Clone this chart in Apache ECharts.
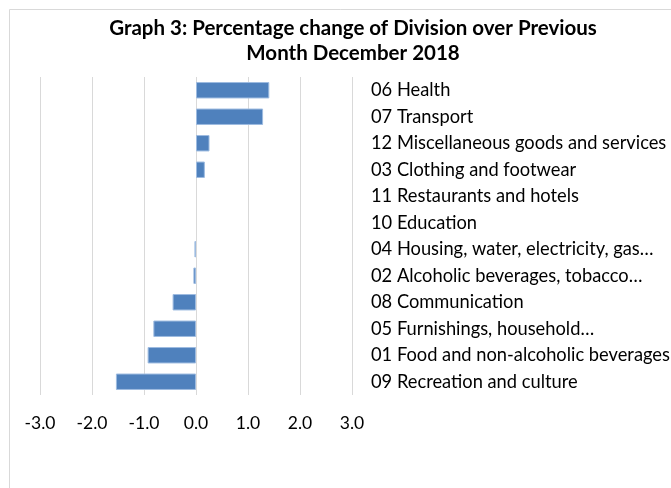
<!DOCTYPE html>
<html>
<head>
<meta charset="utf-8">
<script src="https://cdn.jsdelivr.net/npm/echarts@6/dist/echarts.min.js"></script>
<style>
  html, body { margin: 0; padding: 0; background: #fff; }
  #chart { width: 671px; height: 488px; }
</style>
</head>
<body>
<div id="chart"></div>
<script>
var categories = [
  '06 Health',
  '07 Transport',
  '12 Miscellaneous goods and services',
  '03 Clothing and footwear',
  '11 Restaurants and hotels',
  '10 Education',
  '04 Housing, water, electricity, gas\u2026',
  '02 Alcoholic beverages, tobacco\u2026',
  '08 Communication',
  '05 Furnishings, household\u2026',
  '01 Food and non-alcoholic beverages',
  '09 Recreation and culture'
]
var values = [1.41, 1.29, 0.26, 0.17, 0, 0, -0.03, -0.05, -0.45, -0.82, -0.93, -1.54]

var myChart = echarts.init(document.getElementById('chart'))
var option = {
  backgroundColor: '#fff',
  animation: false,
  title: {
    text: 'Graph 3: Percentage change of Division over Previous\nMonth December 2018',
    left: 348,
    top: 11,
    textAlign: 'center',
    textStyle: {
      fontFamily: 'Lato',
      fontSize: 20.5,
      fontWeight: 'bold',
      color: '#000',
      lineHeight: 25
    }
  },
  graphic: [{
    type: 'rect',
    silent: true,
    shape: { x: 9.5, y: 9.5, width: 700, height: 520 },
    style: { fill: 'none', stroke: '#d9d9d9', lineWidth: 1 }
  }],
  grid: { left: 40, right: 319, top: 77, bottom: 93, outerBoundsMode: 'none', containLabel: false },
  xAxis: {
    type: 'value',
    min: -3,
    max: 3,
    interval: 1,
    axisLine: { show: false },
    axisTick: { show: false },
    splitLine: { lineStyle: { color: '#d9d9d9', width: 1 } },
    axisLabel: {
      margin: 19,
      fontFamily: 'Lato',
      fontSize: 17.5,
      color: '#000',
      formatter: function (v) { return v.toFixed(1) }
    }
  },
  yAxis: {
    type: 'category',
    data: categories,
    inverse: true,
    position: 'right',
    axisLine: { show: false },
    axisTick: { show: false },
    splitLine: { show: false },
    axisLabel: {
      margin: 19,
      align: 'left',
      fontFamily: 'Lato',
      fontSize: 18.3,
      color: '#000'
    }
  },
  series: [{
    type: 'bar',
    data: values.map(function (v) {
      return { value: v, itemStyle: { borderWidth: v === 0 ? 0 : 1 } }
    }),
    barWidth: '62%',
    itemStyle: {
      color: '#4f81bd',
      borderColor: '#9dbbe0',
      borderWidth: 1
    }
  }]
}
myChart.setOption(option)
</script>
</body>
</html>
